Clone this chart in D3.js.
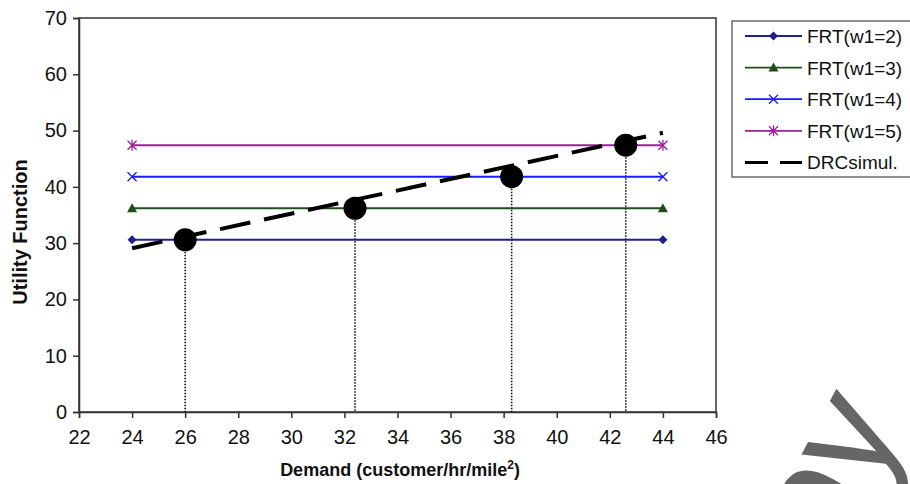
<!DOCTYPE html>
<html>
<head>
<meta charset="utf-8">
<script src="https://cdn.jsdelivr.net/npm/d3@7/dist/d3.min.js"></script>
<style>
  html, body { margin: 0; padding: 0; background: #fff; overflow: hidden; }
  svg { display: block; font-family: "Liberation Sans", Arial, sans-serif; }
</style>
</head>
<body>
<svg id="chart" width="910" height="484"></svg>
<script>
// x axis / y axis ticks
const xTickValues = [22, 24, 26, 28, 30, 32, 34, 36, 38, 40, 42, 44, 46];
const yTickValues = [0, 10, 20, 30, 40, 50, 60, 70];

// FRT series: flat lines between the two demand ends
const frtDemand = [24, 44];
const frtNames = ["FRT(w1=2)", "FRT(w1=3)", "FRT(w1=4)", "FRT(w1=5)"];
const frtValues = [30.6, 36.2, 41.8, 47.4];

// DRC simulation line
const drcName = "DRCsimul.";
const drcDemand = [24, 44];
const drcUtility = [29.1, 49.6];

// crossing points (big dots + dotted drop lines)
const crossDemand = [26, 32.4, 38.3, 42.6];
const crossUtility = [30.6, 36.2, 41.8, 47.4];

const frtColors = ["#1f1f8f", "#1e4d1e", "#1a1aff", "#992299"];
const frtMarkers = ["diamond", "triangle", "cross", "star"];

const svg = d3.select("#chart");
const margin = { top: 18, left: 79, right: 716, bottom: 412 };

const x = d3.scaleLinear().domain([22, 46]).range([margin.left, margin.right]);
const y = d3.scaleLinear().domain([0, 70]).range([margin.bottom, margin.top]);

// frame
svg.append("rect")
  .attr("x", margin.left).attr("y", margin.top)
  .attr("width", margin.right - margin.left)
  .attr("height", margin.bottom - margin.top)
  .attr("fill", "none").attr("stroke", "#333").attr("stroke-width", 1.5);

// axes
const xAxis = svg.append("g")
  .attr("transform", `translate(0,${margin.bottom})`)
  .call(d3.axisBottom(x).tickValues(xTickValues).tickSize(6).tickPadding(12).tickFormat(d3.format("d")));
const yAxis = svg.append("g")
  .attr("transform", `translate(${margin.left},0)`)
  .call(d3.axisLeft(y).tickValues(yTickValues).tickSize(6).tickPadding(6).tickFormat(d3.format("d")));

[xAxis, yAxis].forEach(g => {
  g.select(".domain").attr("stroke", "#333").attr("stroke-width", 1.5);
  g.selectAll(".tick line").attr("stroke", "#333").attr("stroke-width", 1.5);
  g.selectAll(".tick text").attr("fill", "#111").style("font-size", "20px");
});

// axis titles
svg.append("text")
  .attr("x", 400).attr("y", 476)
  .attr("text-anchor", "middle")
  .style("font-size", "18px").style("font-weight", "bold").attr("fill", "#111")
  .html('Demand (customer/hr/mile<tspan dy="-7" font-size="12px">2</tspan><tspan dy="7">)</tspan>');

svg.append("text")
  .attr("transform", "translate(27,232) rotate(-90)")
  .attr("text-anchor", "middle")
  .style("font-size", "20px").style("font-weight", "bold").attr("fill", "#111")
  .text("Utility Function");

// marker drawing
function marker(g, type, cx, cy, color) {
  if (type === "diamond") {
    g.append("path").attr("d", `M${cx},${cy - 4.5}L${cx + 4.5},${cy}L${cx},${cy + 4.5}L${cx - 4.5},${cy}Z`)
      .attr("fill", color);
  } else if (type === "triangle") {
    g.append("path").attr("d", `M${cx},${cy - 5}L${cx + 5},${cy + 4}L${cx - 5},${cy + 4}Z`)
      .attr("fill", color);
  } else if (type === "cross") {
    g.append("path").attr("d", `M${cx - 4.5},${cy - 4.5}L${cx + 4.5},${cy + 4.5}M${cx + 4.5},${cy - 4.5}L${cx - 4.5},${cy + 4.5}`)
      .attr("stroke", color).attr("stroke-width", 1.3).attr("fill", "none");
  } else if (type === "star") {
    g.append("path").attr("d", `M${cx - 4.5},${cy - 4.5}L${cx + 4.5},${cy + 4.5}M${cx + 4.5},${cy - 4.5}L${cx - 4.5},${cy + 4.5}M${cx},${cy - 5.5}L${cx},${cy + 5.5}`)
      .attr("stroke", color).attr("stroke-width", 1.3).attr("fill", "none");
  }
}

// dotted drop lines
svg.append("g").selectAll("line")
  .data(crossDemand)
  .join("line")
  .attr("x1", d => x(d)).attr("x2", d => x(d))
  .attr("y1", (d, i) => y(crossUtility[i])).attr("y2", y(0))
  .attr("stroke", "#111").attr("stroke-width", 1.6).attr("stroke-dasharray", "1.6,1.4");

// FRT lines
const line = d3.line().x(d => x(d[0])).y(d => y(d[1]));
frtValues.forEach((v, i) => {
  const g = svg.append("g");
  g.append("path")
    .attr("d", line(frtDemand.map(d => [d, v])))
    .attr("stroke", frtColors[i]).attr("stroke-width", 2).attr("fill", "none");
  frtDemand.forEach(d => marker(g, frtMarkers[i], x(d), y(v), frtColors[i]));
});

// DRC dashed line
svg.append("path")
  .attr("d", line(drcDemand.map((d, i) => [d, drcUtility[i]])))
  .attr("stroke", "#000").attr("stroke-width", 4).attr("fill", "none")
  .attr("stroke-dasharray", "31,14");

// big dots
svg.append("g").selectAll("circle")
  .data(crossDemand)
  .join("circle")
  .attr("cx", d => x(d)).attr("cy", (d, i) => y(crossUtility[i]))
  .attr("r", 11.5).attr("fill", "#000");

// legend
const lg = svg.append("g");
lg.append("rect").attr("x", 732).attr("y", 21).attr("width", 200).attr("height", 156)
  .attr("fill", "#fff").attr("stroke", "#555").attr("stroke-width", 1.3);
const legendNames = frtNames.concat([drcName]);
legendNames.forEach((name, i) => {
  const ly = 36 + i * 31.6;
  if (i < 4) {
    lg.append("line").attr("x1", 745).attr("x2", 802).attr("y1", ly).attr("y2", ly)
      .attr("stroke", frtColors[i]).attr("stroke-width", 1.8);
    marker(lg, frtMarkers[i], 773.5, ly, frtColors[i]);
  } else {
    lg.append("line").attr("x1", 745).attr("x2", 802).attr("y1", ly).attr("y2", ly)
      .attr("stroke", "#000").attr("stroke-width", 3).attr("stroke-dasharray", "23,12");
  }
  lg.append("text").attr("x", 807).attr("y", ly + 7)
    .style("font-size", "19px").attr("fill", "#111").text(name);
});

// watermark in the corner
svg.append("text")
  .attr("transform", "translate(742,735) rotate(-62)")
  .style("font-size", "150px").attr("fill", "#666")
  .text("Copy");
</script>
</body>
</html>
